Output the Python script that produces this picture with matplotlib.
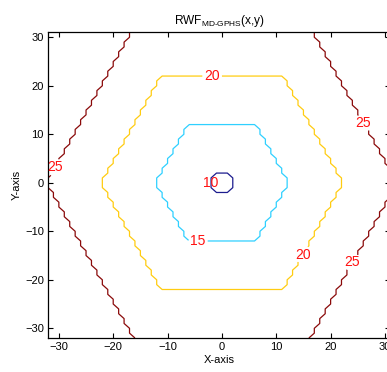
import numpy as np
import matplotlib
matplotlib.use("Agg")
import matplotlib.pyplot as plt

plt.rcParams["font.family"] = ["Liberation Sans", "DejaVu Sans"]
plt.rcParams["mathtext.fontset"] = "custom"
plt.rcParams["mathtext.rm"] = "Liberation Sans"

# sampling grid (integer lattice)
x_vals = np.arange(-32, 32)
y_vals = np.arange(-32, 32)

# field parameters: hex-lattice step distance mapped to RWF value
rwf_base = 9.0
rwf_per_step = 0.5

# contour levels and their line colours
levels = [10, 15, 20, 25]
level_colors = ["#1c1c8e", "#2fd0ff", "#ffcc11", "#8a0a0a"]

# where the level labels sit
inner_label_points = [(-1.9, 0.0)]
label_points = [(-4.4, -12.1), (-1.8, 22.0), (15.0, -14.8),
                (-30.7, 3.1), (26.0, 12.3), (23.8, -16.4)]

X, Y = np.meshgrid(x_vals, y_vals)
ay = np.abs(Y)
steps = np.maximum(ay, np.abs(X) + ay // 2)
Z = rwf_base + rwf_per_step * steps

fig = plt.figure(figsize=(3.87, 3.72), dpi=100)
ax = fig.add_axes([0.124, 0.0914, 0.8848, 0.8215])

cs = ax.contour(X, Y, Z, levels=levels, colors=level_colors, linewidths=0.9)
texts = ax.clabel(cs, fmt="%d", colors="#ff1010", fontsize=10, inline=True,
                  inline_spacing=2, manual=label_points)
texts += ax.clabel(cs, levels=[10], fmt="%d", colors="#ff1010", fontsize=10,
                   inline=False, manual=inner_label_points)
for t in texts:
    t.set_rotation(0)

ax.set_xlim(x_vals[0], x_vals[-1])
ax.set_ylim(y_vals[0], y_vals[-1])
ax.set_xticks([-30, -20, -10, 0, 10, 20, 30])
ax.set_yticks([-30, -20, -10, 0, 10, 20, 30])
ax.tick_params(direction="in", length=3.5, width=0.8, labelsize=8,
               top=True, right=True, pad=3)
for s in ax.spines.values():
    s.set_linewidth(0.9)

ax.set_xlabel("X-axis", fontsize=8, labelpad=2)
ax.set_ylabel("Y-axis", fontsize=8, labelpad=2)
ax.set_title(r"RWF$_{\mathrm{MD\text{-}GPHS}}$(x,y)", fontsize=8.6, pad=6)

fig.savefig("out.png", dpi=100)
